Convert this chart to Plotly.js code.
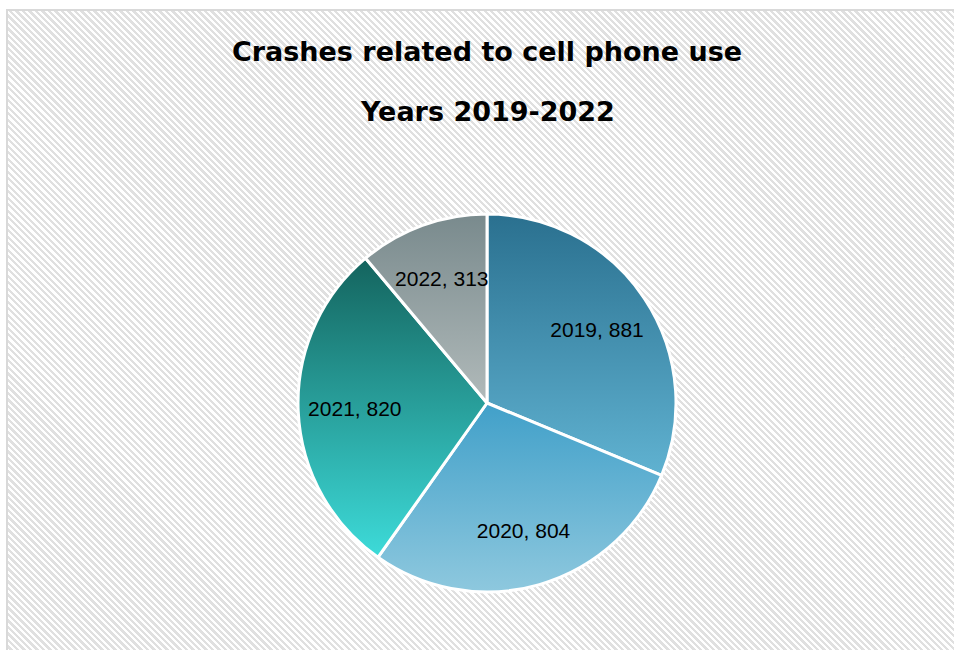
<!DOCTYPE html>
<html>
<head>
<meta charset="utf-8">
<script src="https://cdn.plot.ly/plotly-3.0.1.min.js"></script>
<style>
  html, body { margin: 0; padding: 0; background: #ffffff; width: 954px; height: 650px; overflow: hidden; }
  #bg {
    position: absolute; left: 6px; top: 9px; width: 960px; height: 660px;
    border-left: 2px solid #d9d9d9; border-top: 2px solid #d9d9d9;
    background: repeating-linear-gradient(45deg, #ffffff 0px, #ffffff 2.3px, #e0e0e0 2.3px, #e0e0e0 4.6px);
  }
  #chart { position: absolute; left: 0; top: 0; width: 954px; height: 650px; }
</style>
</head>
<body>
<div id="bg"></div>
<svg width="0" height="0" style="position:absolute">
  <defs>
    <linearGradient id="g0" x1="0" y1="0" x2="0" y2="1">
      <stop offset="0" stop-color="#2a708f"/><stop offset="1" stop-color="#60b2d1"/>
    </linearGradient>
    <linearGradient id="g1" x1="0" y1="0" x2="0" y2="1">
      <stop offset="0" stop-color="#41a0c9"/><stop offset="1" stop-color="#8ec8de"/>
    </linearGradient>
    <linearGradient id="g2" x1="0" y1="0" x2="0" y2="1">
      <stop offset="0" stop-color="#14645e"/><stop offset="1" stop-color="#3ddbd9"/>
    </linearGradient>
    <linearGradient id="g3" x1="0" y1="0" x2="0" y2="1">
      <stop offset="0" stop-color="#798a8d"/><stop offset="1" stop-color="#b1baba"/>
    </linearGradient>
  </defs>
</svg>
<div id="chart"></div>
<script>
const years = ["2019", "2020", "2021", "2022"];
const crashes = [881, 804, 820, 313];
const sliceColors = ["#4590b0", "#66b4d4", "#28a09c", "#96a3a4"];
const gradientIds = ["g0", "g1", "g2", "g3"];
const titleLine1 = "Crashes related to cell phone use";
const titleLine2 = "Years 2019-2022";
const labelRadiusFraction = 0.7;

const titleFont = { family: "DejaVu Sans, sans-serif", size: 27, weight: 700, color: "#000000" };

const trace = {
  type: "pie",
  labels: years,
  values: crashes,
  sort: false,
  direction: "clockwise",
  rotation: 0,
  marker: { colors: sliceColors, line: { color: "#ffffff", width: 3 } },
  texttemplate: "%{label}, %{value}",
  textposition: "inside",
  insidetextorientation: "horizontal",
  textfont: { family: "Liberation Sans, Arial, sans-serif", size: 21, color: "#000000" },
  hoverinfo: "skip",
  domain: { x: [0.3124, 0.7086], y: [0.0892, 0.6708] }
};

const layout = {
  width: 954, height: 650,
  margin: { l: 0, r: 0, t: 0, b: 0 },
  paper_bgcolor: "rgba(0,0,0,0)",
  plot_bgcolor: "rgba(0,0,0,0)",
  showlegend: false,
  hovermode: false,
  title: {
    text: titleLine1,
    x: 0.5105, xanchor: "center",
    y: 0.92, yanchor: "middle",
    font: titleFont
  },
  annotations: [{
    text: titleLine2,
    xref: "paper", yref: "paper",
    x: 0.5105, xanchor: "center",
    y: 0.829, yanchor: "middle",
    showarrow: false,
    font: titleFont
  }]
};

Plotly.newPlot("chart", [trace], layout, { staticPlot: true, displayModeBar: false }).then(function (gd) {
  const slices = gd.querySelectorAll("g.slice");
  const cd = gd.calcdata[0];
  const cd0 = cd[0];
  const fl = gd._fullLayout;
  const dom = gd._fullData[0].domain;
  const cx = (cd0.cx !== undefined) ? cd0.cx : fl.width * (dom.x[0] + dom.x[1]) / 2;
  const cy = (cd0.cy !== undefined) ? cd0.cy : fl.height * (1 - (dom.y[0] + dom.y[1]) / 2);
  const r = (cd0.r !== undefined) ? cd0.r : Math.min(fl.width * (dom.x[1] - dom.x[0]), fl.height * (dom.y[1] - dom.y[0])) / 2;
  const total = crashes.reduce(function (a, b) { return a + b; }, 0);
  let cum = 0;
  slices.forEach(function (s, i) {
    const p = s.querySelector("path.surface");
    if (p) p.style.fill = "url(#" + gradientIds[i] + ")";
    const mid = 2 * Math.PI * (cum + crashes[i] / 2) / total;
    cum += crashes[i];
    const t = s.querySelector("text");
    if (t) {
      t.setAttribute("transform", "");
      const bb = t.getBBox();
      const tx = cx + labelRadiusFraction * r * Math.sin(mid);
      const ty = cy - labelRadiusFraction * r * Math.cos(mid);
      t.setAttribute("transform", "translate(" + (tx - (bb.x + bb.width / 2)) + "," + (ty - (bb.y + bb.height / 2)) + ")");
    }
  });
});
</script>
</body>
</html>
